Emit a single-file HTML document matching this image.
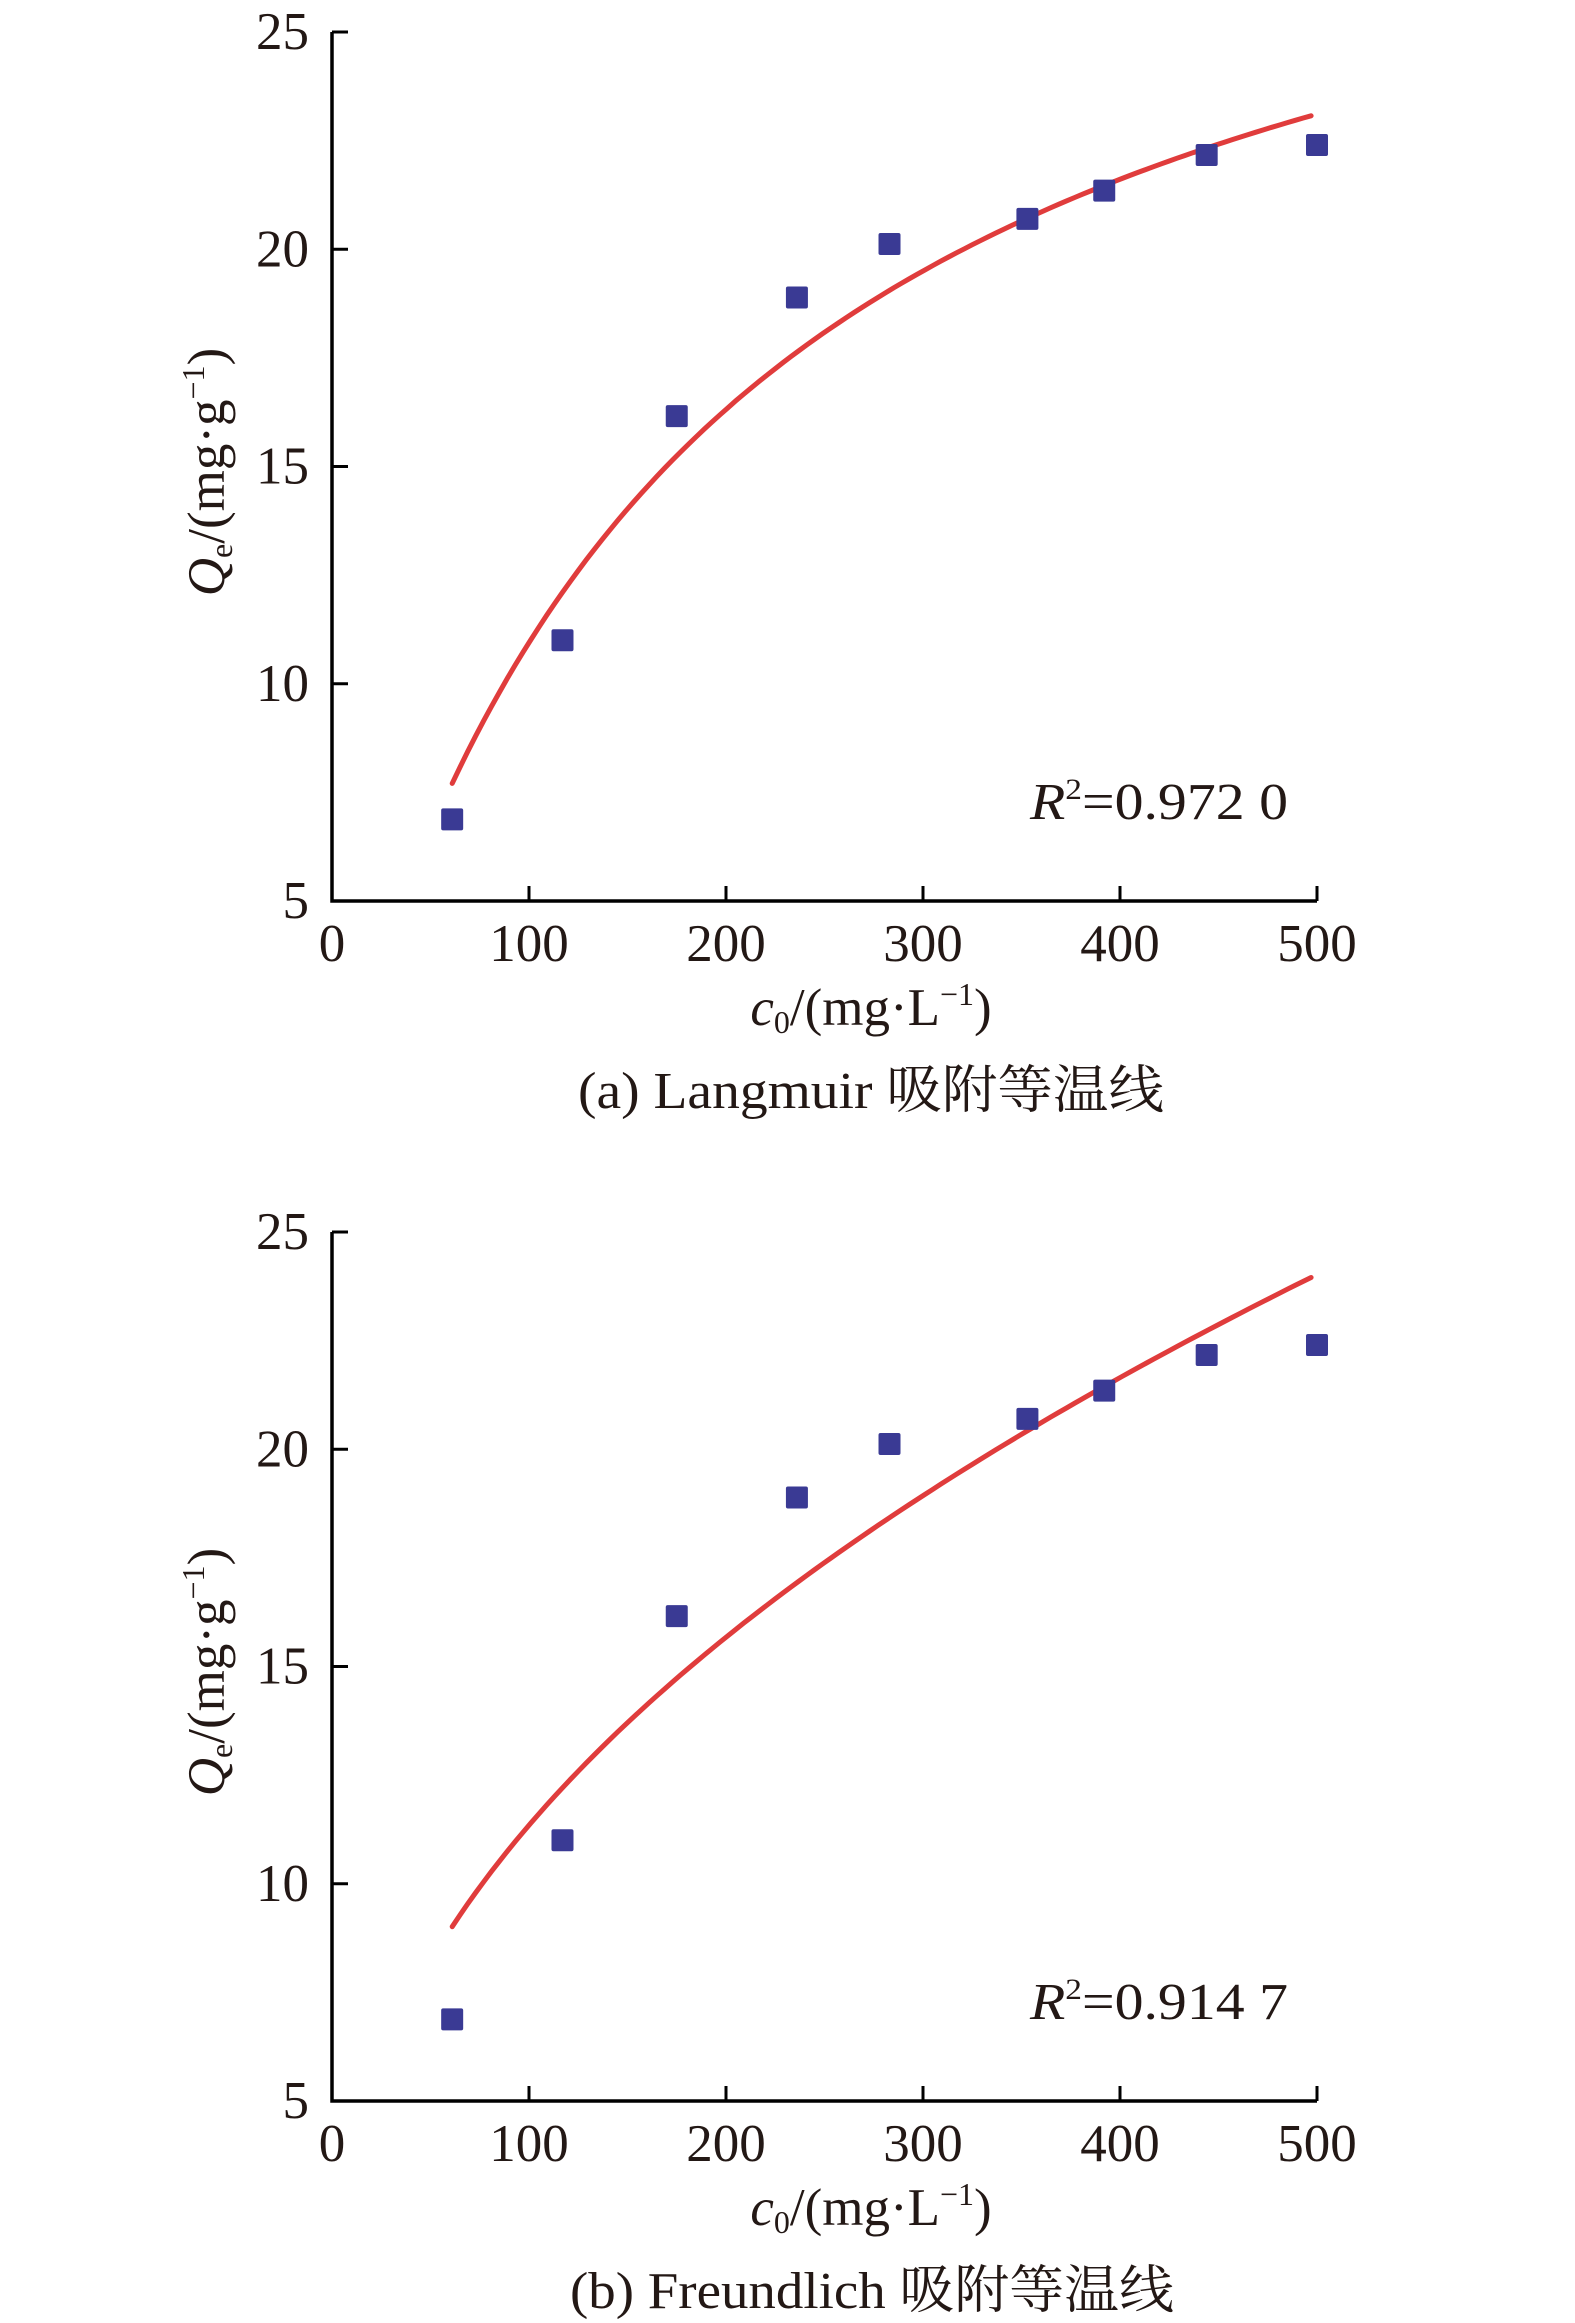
<!DOCTYPE html>
<html><head><meta charset="utf-8"><style>
html,body{margin:0;padding:0;background:#fff;}
svg{display:block;}
text{font-family:"Liberation Serif","Noto Serif CJK SC",serif;fill:#231815;}
</style></head><body>
<svg id="fig" width="1575" height="2323" viewBox="0 0 1575 2323" xmlns="http://www.w3.org/2000/svg"></svg>
<script>
const concentrations = [61, 117, 175, 236, 283, 353, 392, 444, 500];
const adsorbed = [6.88, 11.0, 16.16, 18.89, 20.12, 20.7, 21.35, 22.17, 22.4];
const xTicks = [0, 100, 200, 300, 400, 500];
const yTicks = [5, 10, 15, 20, 25];
const langmuirParams = [32.0, 0.0052];   // Qm, KL
const freundlichParams = [1.327, 0.466]; // KF, 1/n
const r2Labels = ["0.972 0", "0.914 7"];
const captions = [["(a) Langmuir ", "吸附等温线"], ["(b) Freundlich ", "吸附等温线"]];

const NS = "http://www.w3.org/2000/svg";
const svg = document.getElementById('fig');
function mk(tag, attrs, parent) {
  const e = document.createElementNS(NS, tag);
  for (const k in attrs) e.setAttribute(k, attrs[k]);
  parent.appendChild(e);
  return e;
}
const X0 = 332, X1 = 1317, YTOP = 32, YBOT = 901;
const xScale = v => X0 + (v - 0) / 500 * (X1 - X0);
const yScale = v => YBOT - (v - 5) / 20 * (YBOT - YTOP);

function panel(idx, offset, fitFn) {
  const g = mk('g', {transform: 'translate(0,' + offset + ')'}, svg);
  
  
  const ax = mk('path', {d: `M${X0},${YTOP} V${YBOT} H${X1}`, fill: 'none', stroke: '#000', 'stroke-width': 3.5}, g);
  
  
  yTicks.forEach(t => {
    const y = yScale(t);
    const tk = mk('line', {x1: X0, x2: X0 + 16, y1: y, y2: y, stroke: '#000', 'stroke-width': 3}, g);
    
    
    const tl = mk('text', {x: 309, y: y + 17, 'text-anchor': 'end', 'font-size': 53}, g);
    tl.textContent = t;
    
    
  });
  xTicks.forEach(t => {
    const x = xScale(t);
    if (t > 0) {
      const tk = mk('line', {x1: x, x2: x, y1: YBOT, y2: YBOT - 15, stroke: '#000', 'stroke-width': 3}, g);
      
      
    }
    const tl = mk('text', {x: x, y: 961, 'text-anchor': 'middle', 'font-size': 53}, g);
    tl.textContent = t;
    
    
  });
  let d = '';
  for (let c = concentrations[0]; c <= 500.01; c += 4) {
    d += (d ? 'L' : 'M') + xScale(c).toFixed(1) + ',' + yScale(fitFn(c)).toFixed(1);
  }
  const cv = mk('path', {d: d, fill: 'none', stroke: '#e03c3c', 'stroke-width': 5, 'stroke-linecap': 'round'}, g);
  
  
  concentrations.forEach((c, i) => {
    const p = mk('rect', {x: xScale(c) - 11, y: yScale(adsorbed[i]) - 11, width: 22, height: 22, rx: 2, fill: '#3a3a94'}, g);
    
    
  });
  const r = mk('text', {x: 1030, y: 819, 'font-size': 52, textLength: 258, lengthAdjust: 'spacingAndGlyphs'}, g);
  
  
  r.innerHTML = '<tspan font-style="italic">R</tspan><tspan font-size="30" dy="-20">2</tspan><tspan dy="20">=' + r2Labels[idx] + '</tspan>';
  const yt = mk('text', {transform: 'translate(224,472) rotate(-90)', 'text-anchor': 'middle', 'font-size': 53}, g);
  
  
  yt.innerHTML = '<tspan font-style="italic">Q</tspan><tspan font-size="32" dy="8">e</tspan><tspan dy="-8">/(mg·g</tspan><tspan font-size="32" dy="-20">−1</tspan><tspan dy="20">)</tspan>';
  const xt = mk('text', {x: 871, y: 1025, 'text-anchor': 'middle', 'font-size': 53}, g);
  
  
  xt.innerHTML = '<tspan font-style="italic">c</tspan><tspan font-size="32" dy="8">0</tspan><tspan dy="-8">/(mg·L</tspan><tspan font-size="32" dy="-20">−1</tspan><tspan dy="20">)</tspan>';
  const cp = mk('text', {x: idx === 0 ? 578 : 570, y: 1108, 'font-size': 52, textLength: idx === 0 ? 586 : 604, lengthAdjust: 'spacingAndGlyphs'}, g);
  
  
  cp.textContent = captions[idx][0] + captions[idx][1];
}
panel(0, 0, c => langmuirParams[0] * langmuirParams[1] * c / (1 + langmuirParams[1] * c));
panel(1, 1200, c => freundlichParams[0] * Math.pow(c, freundlichParams[1]));
</script>
</body></html>
